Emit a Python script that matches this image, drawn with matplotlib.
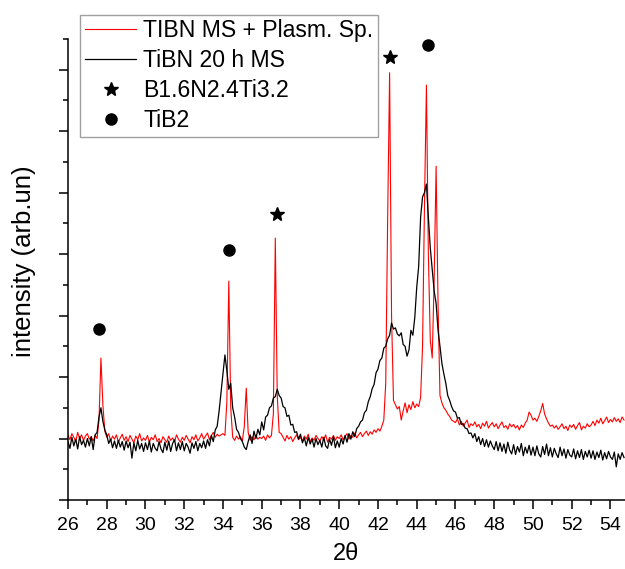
import numpy as np
import matplotlib
matplotlib.use("Agg")
import matplotlib.pyplot as plt
from matplotlib.ticker import MultipleLocator, NullFormatter
from matplotlib.lines import Line2D

plt.rcParams['font.family'] = ['Liberation Sans', 'DejaVu Sans']

# 2theta grid, 0.1 deg step
theta_start = 26.0
theta_step = 0.1
n_points = 288

# TIBN MS + Plasma Sp. (red), one row per degree
plasma = [
    1.05, 0.98, 1.08, 1.02, 0.95, 1.10, 1.00, 1.06, 0.97, 1.04,
    1.08, 0.99, 1.03, 0.96, 1.05, 1.00, 1.30, 2.31, 1.55, 1.12,
    1.02, 1.08, 0.96, 1.04, 0.99, 1.06, 0.94, 1.01, 1.07, 0.97,
    1.03, 0.95, 1.05, 0.99, 0.93, 1.04, 0.98, 1.08, 0.96, 1.01,
    0.97, 1.05, 0.94, 1.02, 0.98, 1.06, 0.95, 1.00, 0.93, 1.03,
    0.98, 0.94, 1.04, 0.97, 1.01, 0.95, 1.06, 0.99, 0.94, 1.02,
    0.97, 1.05, 0.99, 0.93, 1.03, 0.98, 1.06, 0.96, 1.01, 1.08,
    0.99, 1.04, 1.09, 0.98, 1.05, 1.10, 1.02, 1.07, 1.04, 1.06,
    1.08, 1.05, 1.60, 3.56, 1.50, 1.02, 0.97, 1.04, 0.99, 1.03,
    0.96, 1.20, 1.82, 1.10, 0.97, 1.03, 0.98, 1.05, 0.99, 1.02,
    1.00, 1.04, 0.97, 1.06, 1.01, 1.05, 1.40, 4.26, 1.70, 1.10,
    1.08, 1.02, 0.96, 1.05, 0.99, 1.03, 0.95, 1.01, 1.06, 0.98,
    1.02, 0.96, 1.04, 0.99, 1.07, 0.95, 1.01, 0.97, 1.05, 1.00,
    0.96, 1.03, 0.98, 1.06, 0.94, 1.02, 0.99, 1.05, 0.97, 1.03,
    1.00, 1.06, 0.98, 1.03, 1.08, 0.99, 1.05, 1.02, 1.09, 1.01,
    1.06, 1.10, 1.03, 1.08, 1.12, 1.05, 1.11, 1.07, 1.14, 1.10,
    1.16, 1.12, 1.20, 1.30, 1.90, 4.60, 6.95, 3.00, 1.62, 1.55,
    1.48, 1.52, 1.30, 1.45, 1.58, 1.42, 1.55, 1.47, 1.60, 1.50,
    1.56, 1.52, 1.67, 2.50, 4.80, 6.75, 4.00, 2.60, 2.31, 3.60,
    5.43, 3.20, 1.70, 1.58, 1.50, 1.46, 1.40, 1.36, 1.30, 1.28,
    1.26, 1.32, 1.22, 1.28, 1.20, 1.25, 1.30, 1.18, 1.24, 1.21,
    1.27, 1.19, 1.23, 1.16, 1.25, 1.20, 1.28, 1.17, 1.22, 1.26,
    1.19, 1.24, 1.16, 1.22, 1.27, 1.18, 1.21, 1.15, 1.24, 1.19,
    1.23, 1.17, 1.21, 1.14, 1.22, 1.18, 1.25, 1.30, 1.43, 1.38,
    1.30, 1.33, 1.28, 1.36, 1.45, 1.57, 1.40, 1.32, 1.25, 1.20,
    1.22, 1.17, 1.21, 1.15, 1.19, 1.24, 1.16, 1.20, 1.13, 1.22,
    1.18, 1.23, 1.15, 1.21, 1.26, 1.14, 1.20, 1.17, 1.24, 1.19,
    1.22, 1.28, 1.21, 1.30, 1.25, 1.33, 1.24, 1.29, 1.35, 1.26,
    1.31, 1.27, 1.34, 1.28, 1.32, 1.26, 1.35, 1.30,
]

# TiBN 20 h MS (black)
milled = [
    0.95, 0.84, 1.02, 0.88, 0.99, 0.83, 1.03, 0.90, 0.97, 0.86,
    1.00, 0.88, 1.03, 0.82, 1.06, 1.10, 1.35, 1.50, 1.28, 1.14,
    1.06, 0.92, 0.99, 0.85, 0.96, 0.84, 0.97, 0.86, 0.95, 0.81,
    0.96, 0.85, 0.94, 0.68, 0.93, 0.80, 0.97, 0.83, 0.92, 0.79,
    0.93, 0.82, 0.96, 0.78, 0.92, 0.84, 0.80, 0.95, 0.83, 0.77,
    0.94, 0.81, 0.96, 0.79, 0.92, 0.98, 0.80, 0.93, 0.82, 0.95,
    0.80, 0.92, 0.86, 0.76, 0.93, 0.84, 0.95, 0.80, 0.92, 0.85,
    0.96, 0.84, 0.98, 0.88, 1.05, 0.95, 1.14, 1.20, 1.45, 1.75,
    2.05, 2.36, 2.10, 1.80, 1.90, 1.50, 1.35, 1.15, 1.10, 1.00,
    0.95, 0.86, 0.82, 0.95, 1.06, 0.92, 1.12, 1.00, 1.15, 1.06,
    1.27, 1.14, 1.35, 1.38, 1.50, 1.53, 1.66, 1.68, 1.80, 1.70,
    1.66, 1.52, 1.50, 1.36, 1.38, 1.22, 1.23, 1.10, 1.11, 0.99,
    1.07, 0.93, 1.01, 0.88, 1.02, 0.91, 0.99, 0.86, 1.00, 0.90,
    0.97, 0.86, 1.02, 0.88, 0.84, 0.99, 0.89, 1.03, 0.85, 0.96,
    0.86, 1.00, 0.91, 1.05, 0.94, 1.08, 0.99, 1.11, 1.03, 1.16,
    1.20, 1.27, 1.30, 1.42, 1.46, 1.60, 1.68, 1.81, 1.88, 2.07,
    2.13, 2.27, 2.31, 2.47, 2.50, 2.62, 2.68, 2.88, 2.78, 2.80,
    2.70, 2.67, 2.72, 2.53, 2.50, 2.34, 2.44, 2.76, 2.68, 2.97,
    3.46, 3.80, 4.60, 4.93, 5.00, 5.14, 4.60, 4.10, 3.74, 3.40,
    3.20, 2.76, 2.50, 2.22, 2.05, 1.90, 1.70, 1.62, 1.52, 1.45,
    1.43, 1.33, 1.34, 1.23, 1.24, 1.17, 1.16, 1.08, 1.09, 1.01,
    1.08, 0.95, 1.03, 0.90, 1.00, 0.87, 0.98, 0.86, 0.96, 0.88,
    0.82, 0.95, 0.80, 0.93, 0.79, 0.91, 0.76, 0.94, 0.81, 0.75,
    0.90, 0.74, 0.87, 0.78, 0.92, 0.72, 0.86, 0.76, 0.89, 0.73,
    0.86, 0.72, 0.88, 0.75, 0.70, 0.87, 0.74, 0.91, 0.72, 0.85,
    0.70, 0.84, 0.75, 0.69, 0.86, 0.72, 0.83, 0.68, 0.82, 0.73,
    0.70, 0.83, 0.67, 0.80, 0.69, 0.82, 0.66, 0.79, 0.70, 0.81,
    0.68, 0.80, 0.66, 0.78, 0.69, 0.81, 0.65, 0.77, 0.67, 0.79,
    0.70, 0.66, 0.78, 0.54, 0.75, 0.66, 0.77, 0.69,
]

# phase markers (2theta, height)
star_x = [36.77, 42.6]
star_y = [4.65, 7.2]
dot_x = [27.58, 34.3, 44.56]
dot_y = [2.78, 4.07, 7.41]

two_theta = theta_start + theta_step * np.arange(n_points)

fig = plt.figure(figsize=(6.25, 5.69), dpi=100)
ax = fig.add_axes([0.1088, 0.1213, 0.8912, 0.8102])

ax.plot(two_theta, plasma, color='#ff0000', lw=0.8)
ax.plot(two_theta, milled, color='black', lw=0.9)
ax.plot(star_x, star_y, ls='none', marker='*', ms=10, color='black')
ax.plot(dot_x, dot_y, ls='none', marker='o', ms=8, color='black')

ax.set_xlim(26, 54.75)
ax.set_ylim(0, 7.5)
ax.xaxis.set_major_locator(MultipleLocator(2))
ax.xaxis.set_minor_locator(MultipleLocator(1))
ax.yaxis.set_major_locator(MultipleLocator(1))
ax.yaxis.set_minor_locator(MultipleLocator(0.5))
ax.yaxis.set_major_formatter(NullFormatter())
ax.spines['top'].set_visible(False)
ax.spines['right'].set_visible(False)
for s in ['left', 'bottom']:
    ax.spines[s].set_linewidth(1.1)
ax.tick_params(which='major', direction='out', length=6.5, width=1.1, labelsize=14, pad=6)
ax.tick_params(which='minor', direction='out', length=3.6, width=1.1)

ax.set_xlabel('2θ', fontsize=17, labelpad=6.5)
ax.set_ylabel('intensity (arb.un)', fontsize=18.5)
ax.yaxis.set_label_coords(-0.058, 0.517)

handles = [
    Line2D([], [], color='#ff0000', lw=0.8),
    Line2D([], [], color='black', lw=0.9),
    Line2D([], [], ls='none', marker='*', ms=10, color='black'),
    Line2D([], [], ls='none', marker='o', ms=8, color='black'),
]
labels = ['TIBN MS + Plasm. Sp.', 'TiBN 20 h MS', 'B1.6N2.4Ti3.2', 'TiB2']
leg = fig.legend(handles, labels, loc='upper left', bbox_to_anchor=(0.128, 0.974),
                 fontsize=16.6, frameon=True, fancybox=False, edgecolor='#888888',
                 handlelength=2.25, borderpad=0.2, labelspacing=0.3,
                 handletextpad=0.3, borderaxespad=0)
leg.get_frame().set_linewidth(1.0)

fig.savefig('out.png', dpi=100)
